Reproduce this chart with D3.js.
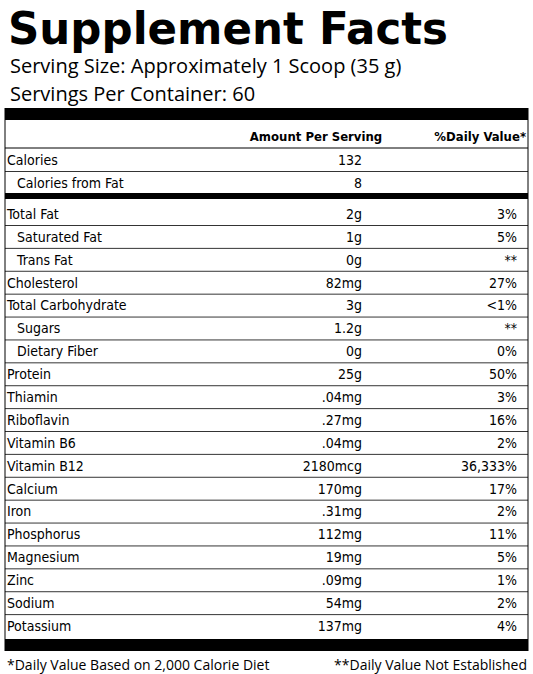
<!DOCTYPE html>
<html><head><meta charset="utf-8">
<script src="https://cdn.jsdelivr.net/npm/d3@7"></script>
<style>body{margin:0;background:#fff}</style>
</head><body>
<svg id="chart" width="533" height="674"></svg>
<script>
// label facts
var servingSize = "Serving Size: Approximately 1 Scoop (35 g)";
var servingsPer = "Servings Per Container: 60";
var nutrients = ["Calories","Calories from Fat","Total Fat","Saturated Fat","Trans Fat","Cholesterol","Total Carbohydrate","Sugars","Dietary Fiber","Protein","Thiamin","Riboflavin","Vitamin B6","Vitamin B12","Calcium","Iron","Phosphorus","Magnesium","Zinc","Sodium","Potassium"];
var amounts = ["132","8","2g","1g","0g","82mg","3g","1.2g","0g","25g",".04mg",".27mg",".04mg","2180mcg","170mg",".31mg","112mg","19mg",".09mg","54mg","137mg"];
var dailyValues = ["","","3%","5%","**","27%","<1%","**","0%","50%","3%","16%","2%","36,333%","17%","2%","11%","5%","1%","2%","4%"];
var indented = ["Calories from Fat","Saturated Fat","Trans Fat","Sugars","Dietary Fiber"];

var svg = d3.select("#chart");
var narrow = "'DejaVu Sans Condensed','Liberation Sans Narrow',sans-serif";
var L = 5, R = 528;

svg.append("text").attr("x",8).attr("y",44).text("Supplement Facts")
	.style("font-family","'DejaVu Sans',sans-serif").style("font-weight","bold")
	.style("font-size","44px").attr("textLength",440).attr("lengthAdjust","spacingAndGlyphs");
svg.append("text").attr("x",10).attr("y",73).text(servingSize)
	.style("font-family","'Open Sans',sans-serif").style("font-size","20px");
svg.append("text").attr("x",10).attr("y",101).text(servingsPer)
	.style("font-family","'Open Sans',sans-serif").style("font-size","20px");

svg.append("rect").attr("x",L).attr("y",108).attr("width",R-L).attr("height",12);
svg.append("rect").attr("x",L).attr("y",639).attr("width",R-L).attr("height",12);
svg.append("line").attr("x1",L).attr("x2",L).attr("y1",108).attr("y2",651).attr("stroke","#000");
svg.append("line").attr("x1",R).attr("x2",R).attr("y1",108).attr("y2",651).attr("stroke","#000");

svg.append("text").attr("x",316).attr("y",141).attr("text-anchor","middle").text("Amount Per Serving")
	.style("font-family",narrow).style("font-weight","bold").style("font-size","13px");
svg.append("text").attr("x",526).attr("y",141).attr("text-anchor","end").text("%Daily Value*")
	.style("font-family",narrow).style("font-weight","bold").style("font-size","13px");
svg.append("line").attr("x1",L).attr("x2",R).attr("y1",148).attr("y2",148).attr("stroke","#000");

// row centres: first two rows then a divider, rest evenly spaced
var y = d3.scalePoint().domain(d3.range(nutrients.length - 2)).range([214, 626]);
function rowY(i){ return i < 2 ? 160 + i*23 : y(i-2); }

var rows = svg.selectAll("g.row").data(nutrients).join("g").attr("class","row")
	.attr("transform",function(d,i){ return "translate(0," + rowY(i) + ")"; })
	.style("font-family",narrow).style("font-size","14px");
rows.append("text").attr("x",function(d){ return indented.indexOf(d) >= 0 ? 17 : 7; })
	.attr("dy","0.35em").text(function(d){ return d; });
rows.append("text").attr("x",362).attr("text-anchor","end").attr("dy","0.35em")
	.text(function(d,i){ return amounts[i]; });
rows.append("text").attr("x",517).attr("text-anchor","end").attr("dy","0.35em")
	.text(function(d,i){ return dailyValues[i]; });
rows.filter(function(d,i){ return i != 1 && i < nutrients.length - 1; })
	.append("line").attr("x1",L).attr("x2",R).attr("y1",11.5).attr("y2",11.5)
	.attr("stroke","#000").attr("stroke-width",0.8);
svg.append("rect").attr("x",L).attr("y",193).attr("width",R-L).attr("height",6);

svg.append("text").attr("x",7).attr("y",670).text("*Daily Value Based on 2,000 Calorie Diet")
	.style("font-family","'Open Sans',sans-serif").style("font-size","14px");
svg.append("text").attr("x",527).attr("y",670).attr("text-anchor","end").text("**Daily Value Not Established")
	.style("font-family","'Open Sans',sans-serif").style("font-size","14px");
</script>
</body></html>
